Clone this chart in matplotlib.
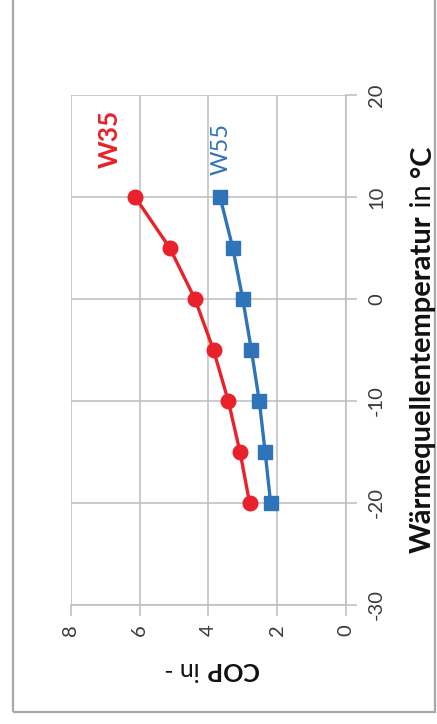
import matplotlib
matplotlib.use("Agg")
import matplotlib.pyplot as plt
from matplotlib.patches import Rectangle

plt.rcParams['font.family'] = ['Lato', 'DejaVu Sans']
plt.rcParams['axes.unicode_minus'] = False

temps = [10, 5, 0, -5, -10, -15, -20]
cop_w35 = [6.13, 5.12, 4.39, 3.85, 3.42, 3.08, 2.80]
cop_w55 = [3.66, 3.29, 3.00, 2.75, 2.52, 2.35, 2.19]
temp_ticks = [-30, -20, -10, 0, 10, 20]
cop_ticks = [0, 2, 4, 6, 8]

RED = '#e8212b'
BLUE = '#2f74b8'
GRID = '#bdbdbd'

W, H = 437, 724
fig = plt.figure(figsize=(W / 100, H / 100), dpi=100)

def fx(px):
    return px / W

def fy(py):
    return 1 - py / H

# outer frame
fig.patches.append(Rectangle((fx(13), fy(712)), fx(435) - fx(13), fy(-10) - fy(712),
                             transform=fig.transFigure, fill=False,
                             edgecolor='#a8a8a8', linewidth=1.6))

ax = fig.add_axes([fx(70.7), fy(605), fx(346) - fx(70.7), fy(95) - fy(605)])
ax.set_xlim(8, 0)
ax.set_ylim(-30, 20)
ax.set_xticks(cop_ticks)
ax.set_yticks(temp_ticks)
ax.grid(True, color=GRID, linewidth=1.1)
ax.set_axisbelow(True)
for s in ['top', 'left']:
    ax.spines[s].set_visible(False)
for s in ['right', 'bottom']:
    ax.spines[s].set_color(GRID)
    ax.spines[s].set_linewidth(1.1)
ax.yaxis.tick_right()
ax.tick_params(axis='both', direction='out', color=GRID, width=1.1, length=8,
               labelsize=14.5, labelcolor='#3a3a3a')
ax.tick_params(axis='y', pad=8)
ax.tick_params(axis='x', pad=6)
for lab in ax.get_xticklabels():
    lab.set_rotation(90)
for lab in ax.get_yticklabels():
    lab.set_rotation(90)
    lab.set_va('center')

ax.plot(cop_w35, temps, color=RED, linewidth=2.4, marker='o', markersize=10.5, zorder=3)
ax.plot(cop_w55, temps, color=BLUE, linewidth=2.4, marker='s', markersize=9.5, zorder=3)

ax.text(fx(110), fy(139), 'W35', transform=fig.transFigure, rotation=90, color=RED,
        fontsize=19, fontweight='bold', ha='center', va='center')
ax.text(fx(221), fy(149), 'W55', transform=fig.transFigure, rotation=90, color=BLUE,
        fontsize=17, ha='center', va='center')

fig.canvas.draw()
r = fig.canvas.get_renderer()

# Right axis title (reads bottom to top), mixed weights
xc = fx(423)
parts = [('Wärmequellentemperatur', 'bold'), (' in ', 'normal'), ('°C', 'bold')]
texts = []
y0 = 0.0
for txt, w in parts:
    t = fig.text(xc, y0, txt, rotation=90, ha='center', va='bottom', fontsize=21,
                 fontweight=w, color='#111111')
    bb = t.get_window_extent(renderer=r)
    texts.append(t)
    y0 = bb.y1 / fig.bbox.height
total = y0
shift = fy(553)
for t in texts:
    x, y = t.get_position()
    t.set_position((x, y + shift))

# Bottom axis title (upside down), "COP" bold, " in -" normal
x0 = fx(258)
yc = fy(669)
for txt, w in [('COP', 'bold'), (' in -', 'normal')]:
    t = fig.text(x0, yc, txt, rotation=180, ha='right', va='center', fontsize=18,
                 fontweight=w, color='#111111')
    bb = t.get_window_extent(renderer=r)
    x0 = bb.x0 / fig.bbox.width

fig.savefig('out.png', dpi=100)
